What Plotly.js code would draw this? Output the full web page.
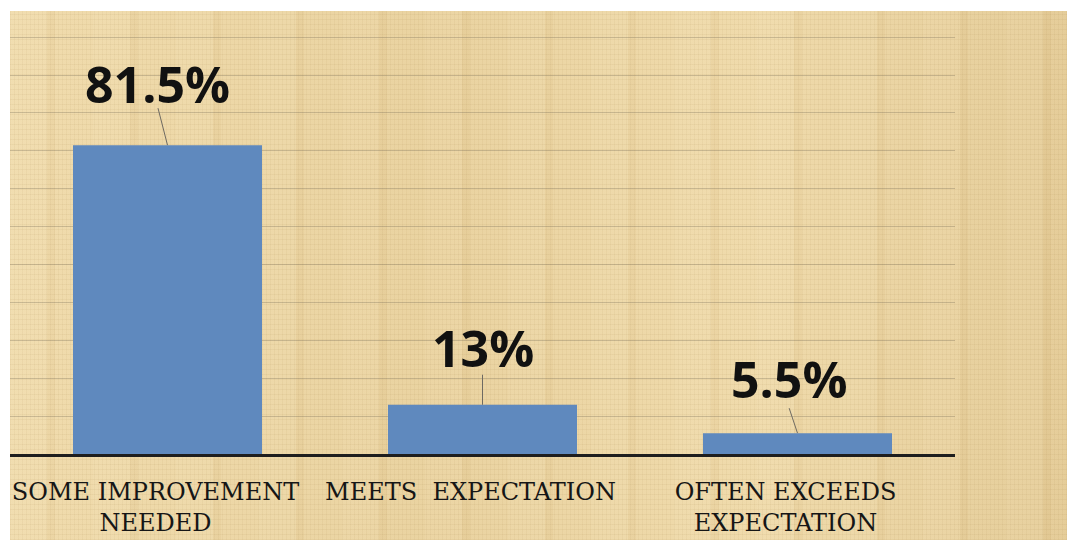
<!DOCTYPE html>
<html><head><meta charset="utf-8">
<script src="https://cdn.plot.ly/plotly-3.0.1.min.js"></script>
<style>
html,body{margin:0;padding:0;background:#fff;width:1067px;height:540px;overflow:hidden}
#paper{position:absolute;left:10px;top:11px;width:1057px;height:529px;
background-color:#ebd4a1;
background-image:
 repeating-linear-gradient(0deg, rgba(150,115,55,0.07) 0 1px, transparent 1px 5px),
 repeating-linear-gradient(90deg, rgba(150,115,55,0.06) 0 1px, transparent 1px 4px),
 repeating-linear-gradient(90deg, rgba(255,245,215,0.12) 0 37px, rgba(190,155,95,0.06) 37px 45px, rgba(255,245,215,0.06) 45px 83px),
 linear-gradient(90deg, rgba(255,240,205,0.22), rgba(205,170,110,0.08) 40%, rgba(255,240,205,0.18) 70%, rgba(195,160,100,0.18));
}
#chart{width:1057px;height:529px}
</style></head>
<body><div id="paper"><div id="chart"></div></div>
<script>
// ---- data ----
const categories = ['SOME IMPROVEMENT<br>NEEDED', 'MEETS\u00a0 EXPECTATION', 'OFTEN EXCEEDS<br>EXPECTATION'];
const values = [81.5, 13, 5.5];
const valueLabels = ['81.5%', '13%', '5.5%'];

// ---- label placement (pixels) ----
const labelShiftX = [-10, 0, -9];
const labelLift = [25, 21, 18];
const leaderAx = [-10, 0, -9];
const leaderAy = [-39, -32, -27];

const trace = {
  type: 'bar',
  x: categories,
  y: values,
  marker: {color: '#5f89be', line: {width: 0}},
  hoverinfo: 'skip'
};

const annotations = [];
values.forEach((v, i) => {
  annotations.push({
    xref: 'x', yref: 'y', x: i, y: v,
    text: valueLabels[i], showarrow: false,
    xanchor: 'center', yanchor: 'bottom',
    xshift: labelShiftX[i], yshift: labelLift[i],
    font: {family: 'Open Sans, sans-serif', size: 50, color: '#111', weight: 700}
  });
  annotations.push({
    xref: 'x', yref: 'y', x: i, y: v,
    text: ' ', showarrow: true, arrowhead: 0, arrowwidth: 1,
    arrowcolor: '#6e6a62', standoff: 0, startstandoff: 0,
    ax: leaderAx[i], ay: leaderAy[i],
    font: {size: 1}
  });
});

const layout = {
  width: 1057, height: 529,
  margin: {l: 0, r: 112, t: 0, b: 86},
  paper_bgcolor: 'rgba(0,0,0,0)',
  plot_bgcolor: 'rgba(0,0,0,0)',
  bargap: 0.4,
  showlegend: false,
  xaxis: {
    type: 'category',
    showline: true, linecolor: '#1e1e1e', linewidth: 3,
    ticks: '', showgrid: false, zeroline: false,
    tickfont: {family: 'DejaVu Serif, serif', size: 24, color: '#161616'},
    ticklabelshift: -12, ticklabelstandoff: 14,
    fixedrange: true
  },
  yaxis: {
    range: [0, 116.9], dtick: 10, tick0: 0,
    showgrid: true, gridcolor: 'rgba(110,100,80,0.3)', gridwidth: 1,
    showticklabels: false, zeroline: false, showline: false, ticks: '',
    fixedrange: true
  },
  annotations: annotations
};

Plotly.newPlot('chart', [trace], layout, {displayModeBar: false, staticPlot: true});
</script>
</body></html>
